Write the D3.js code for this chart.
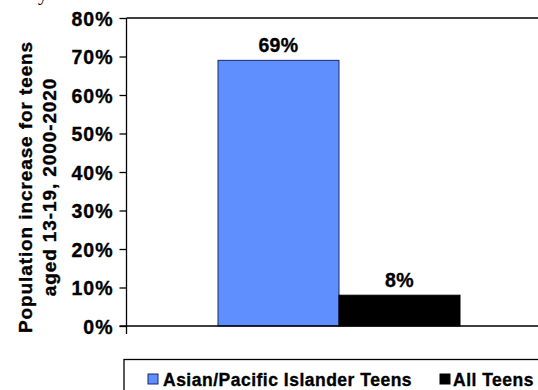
<!DOCTYPE html>
<html>
<head>
<meta charset="utf-8">
<script src="https://cdn.jsdelivr.net/npm/d3@7"></script>
<style>
  html, body { margin: 0; padding: 0; background: #fff; }
  svg { display: block; }
  text { font-family: Arial, "Liberation Sans", Helvetica, sans-serif; font-weight: bold; fill: #000; }
  text.heavy { stroke: #000; stroke-width: 0.35px; }
</style>
</head>
<body>
<svg id="chart" width="538" height="390"></svg>
<script>
// Projected population growth of teens aged 13-19, 2000-2020
const categories = ["Asian/Pacific Islander Teens", "All Teens"];
const values = [69, 8];
const colors = ["#5f8fff", "#000000"];
const strokes = ["#1b2a66", "#000000"];
const yTicks = [0, 10, 20, 30, 40, 50, 60, 70, 80];
const yTitle = ["Population increase for teens", "aged 13-19, 2000-2020"];
const caption = ["next 20 ", "years:"];

const svg = d3.select("#chart");

// plot area
const plot = { left: 126.5, right: 600, top: 18, bottom: 326 };

const y = d3.scaleLinear().domain([0, 80]).range([plot.bottom, plot.top]);
const x = d3.scaleBand().domain(categories).range([218, 460]).paddingInner(0).paddingOuter(0);

// caption line running off the top edge
const cap = svg.append("g");
cap.append("text")
  .attr("x", 38).attr("y", 0)
  .attr("text-anchor", "end")
  .style("font-weight", "normal")
  .style("font-size", "20px")
  .style("font-family", "'Liberation Serif', serif")
  .text(caption[0]);
cap.append("text")
  .attr("x", 38).attr("y", 0)
  .style("font-weight", "normal")
  .style("font-size", "20px")
  .style("font-family", "'Liberation Serif', serif")
  .style("letter-spacing", "3px")
  .text(caption[1]);

// top border of plot area
svg.append("line")
  .attr("x1", plot.left).attr("x2", plot.right)
  .attr("y1", plot.top).attr("y2", plot.top)
  .attr("stroke", "#000").attr("stroke-width", 1.3);

// bars
svg.selectAll("rect.bar")
  .data(values)
  .join("rect")
  .attr("class", "bar")
  .attr("x", (d, i) => x(categories[i]))
  .attr("width", x.bandwidth())
  .attr("y", d => y(d))
  .attr("height", d => y(0) - y(d))
  .attr("fill", (d, i) => colors[i])
  .attr("stroke", (d, i) => strokes[i])
  .attr("stroke-width", 1);

// value labels
svg.selectAll("text.val")
  .data(values)
  .join("text")
  .attr("class", "val heavy")
  .attr("x", (d, i) => x(categories[i]) + x.bandwidth() / 2)
  .attr("y", d => y(d) - 8)
  .attr("text-anchor", "middle")
  .style("font-size", "19.5px")
  .style("letter-spacing", "0.4px")
  .text(d => d + "%");

// y axis
const yAxis = d3.axisLeft(y)
  .tickValues(yTicks)
  .tickFormat(d => d + "%")
  .tickSize(7)
  .tickPadding(7);

const gy = svg.append("g")
  .attr("transform", `translate(${plot.left},0)`)
  .call(yAxis);
gy.select(".domain").remove();
gy.selectAll(".tick line").attr("stroke", "#000").attr("stroke-width", 1.3);
gy.selectAll(".tick text")
  .attr("class", "heavy")
  .style("font-size", "19.5px")
  .style("font-family", "Arial, 'Liberation Sans', sans-serif")
  .style("font-weight", "bold")
  .style("letter-spacing", "1px")
  .attr("dx", "1px")
  .attr("dy", "0.36em");

// y axis line, reaching a little below the baseline
svg.append("line")
  .attr("x1", plot.left).attr("x2", plot.left)
  .attr("y1", plot.top).attr("y2", plot.bottom + 8)
  .attr("stroke", "#000").attr("stroke-width", 1.3);

// x axis baseline
svg.append("line")
  .attr("x1", plot.left - 7).attr("x2", plot.right)
  .attr("y1", y(0)).attr("y2", y(0))
  .attr("stroke", "#000").attr("stroke-width", 1.3);

// y axis title
const title = svg.append("text")
  .attr("class", "heavy")
  .attr("transform", "translate(0,187) rotate(-90)")
  .attr("text-anchor", "middle")
  .style("font-size", "19px")
  .style("letter-spacing", "0.9px");
title.selectAll("tspan")
  .data(yTitle)
  .join("tspan")
  .attr("x", 0)
  .attr("y", (d, i) => 32 + i * 24)
  .text(d => d);

// legend
svg.append("rect")
  .attr("x", 124).attr("y", 359.5)
  .attr("width", 500).attr("height", 100)
  .attr("fill", "none").attr("stroke", "#000").attr("stroke-width", 1.3);

const legendX = [148, 440];
const lg = svg.selectAll("g.leg")
  .data(categories)
  .join("g")
  .attr("class", "leg")
  .attr("transform", (d, i) => `translate(${legendX[i]},374)`);
lg.append("rect")
  .attr("width", 10).attr("height", 10)
  .attr("fill", (d, i) => colors[i])
  .attr("stroke", (d, i) => strokes[i])
  .attr("stroke-width", 1);
lg.append("text")
  .attr("class", "heavy")
  .attr("x", (d, i) => i === 0 ? 15 : 13)
  .attr("y", 11.5)
  .style("font-size", "17.5px")
  .style("letter-spacing", "0.5px")
  .text(d => d);
</script>
</body>
</html>
